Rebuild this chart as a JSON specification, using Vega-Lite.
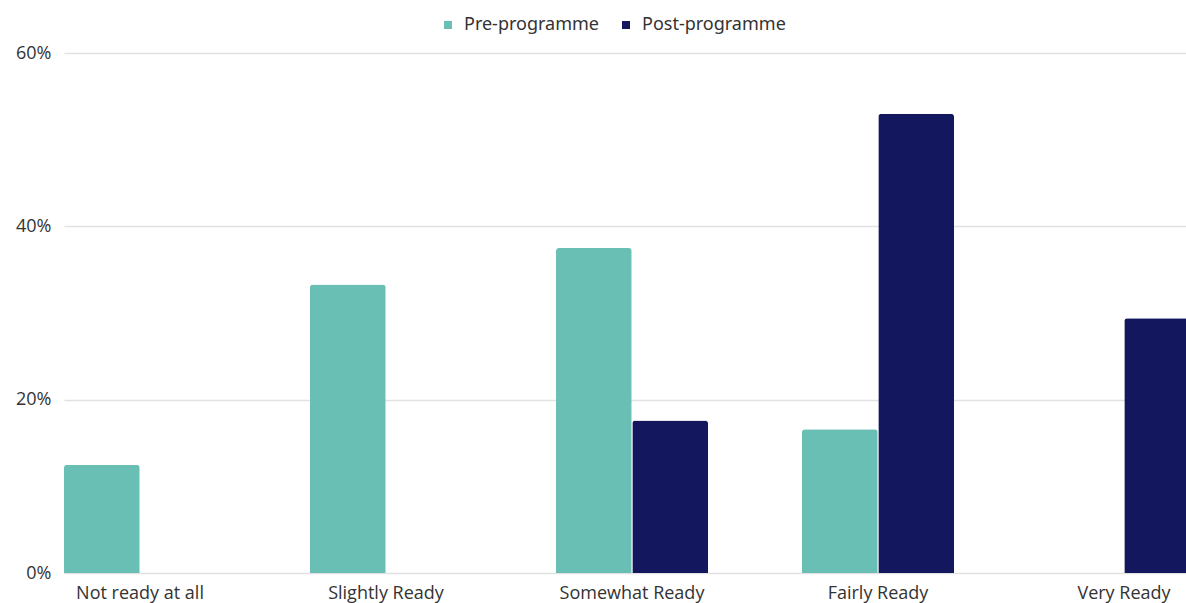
{
  "$schema": "https://vega.github.io/schema/vega-lite/v6.json",
  "width": 1122,
  "height": 520,
  "autosize": "none",
  "padding": {"left": 64, "top": 53, "right": 0, "bottom": 30},
  "background": "white",
  "config": {"view": {"stroke": null}},
  "data": {
    "values": [
      {"category": "Not ready at all", "group": "Pre-programme", "value": 0.125},
      {"category": "Not ready at all", "group": "Post-programme", "value": 0},
      {"category": "Slightly Ready", "group": "Pre-programme", "value": 0.333},
      {"category": "Slightly Ready", "group": "Post-programme", "value": 0},
      {"category": "Somewhat Ready", "group": "Pre-programme", "value": 0.375},
      {"category": "Somewhat Ready", "group": "Post-programme", "value": 0.176},
      {"category": "Fairly Ready", "group": "Pre-programme", "value": 0.166},
      {"category": "Fairly Ready", "group": "Post-programme", "value": 0.53},
      {"category": "Very Ready", "group": "Pre-programme", "value": 0},
      {"category": "Very Ready", "group": "Post-programme", "value": 0.294}
    ]
  },
  "mark": {"type": "bar", "cornerRadiusTopLeft": 3, "cornerRadiusTopRight": 3},
  "encoding": {
    "x": {
      "field": "category",
      "type": "nominal",
      "sort": ["Not ready at all", "Slightly Ready", "Somewhat Ready", "Fairly Ready", "Very Ready"],
      "scale": {"range": [0, 1136], "paddingInner": 0.382, "paddingOuter": 0},
      "axis": {"title": null, "labelAngle": 0, "ticks": false, "domain": false, "labelFont": "Open Sans", "labelFontSize": 18, "labelColor": "#333333", "labelPadding": 11}
    },
    "xOffset": {
      "field": "group",
      "sort": ["Pre-programme", "Post-programme"],
      "scale": {"paddingInner": 0.008}
    },
    "y": {
      "field": "value",
      "type": "quantitative",
      "scale": {"domain": [0, 0.6]},
      "axis": {"title": null, "values": [0, 0.2, 0.4, 0.6], "format": ".0%", "ticks": false, "domain": false, "gridColor": "#e2e2e2", "gridWidth": 1.5, "labelFont": "Open Sans", "labelFontSize": 18, "labelColor": "#333333", "labelPadding": 13}
    },
    "color": {
      "field": "group",
      "type": "nominal",
      "sort": ["Pre-programme", "Post-programme"],
      "scale": {"domain": ["Pre-programme", "Post-programme"], "range": ["#69bfb3", "#12175e"]},
      "legend": {"orient": "none", "legendX": 375, "legendY": -37, "direction": "horizontal", "title": null, "symbolType": "square", "symbolSize": 64, "symbolStrokeWidth": 0, "labelFont": "Noto Sans", "labelFontSize": 18, "labelColor": "#333333", "columnPadding": 18, "labelOffset": 7}
    }
  }
}
